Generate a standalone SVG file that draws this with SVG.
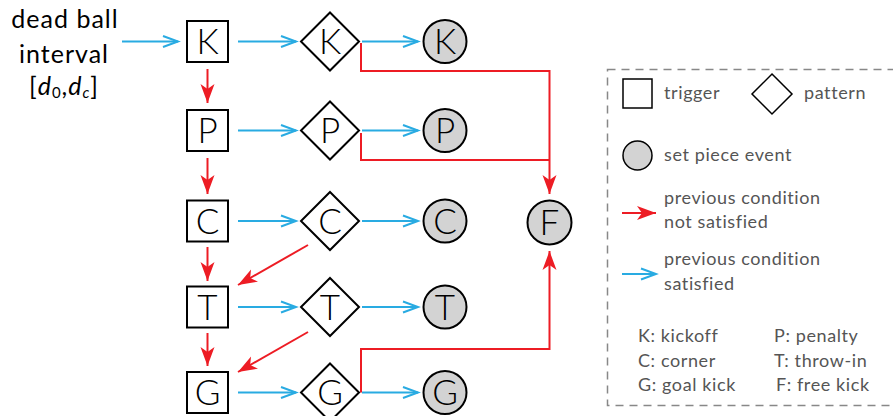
<svg xmlns="http://www.w3.org/2000/svg" width="893" height="416" viewBox="0 0 893 416">
<style>
.nd{fill:#fff;stroke:#000;stroke-width:2}
.ev{fill:#d3d3d3;stroke:#000;stroke-width:2}
.lt{font-family:Lato,"Liberation Sans",sans-serif;font-weight:300;font-size:35px;fill:#000;text-anchor:middle}
.bl{fill:none;stroke:#29abe2;stroke-width:2;marker-end:url(#bh)}
.rd{fill:none;stroke:#ed1c24;stroke-width:2;marker-end:url(#rh)}
.rn{fill:none;stroke:#ed1c24;stroke-width:2}
.lg{font-family:Lato,"Liberation Sans",sans-serif;font-weight:400;font-size:18px;letter-spacing:0.6px;fill:#555}
.in{font-family:Lato,"Liberation Sans",sans-serif;font-weight:400;font-size:25px;letter-spacing:1px;fill:#000;text-anchor:middle}
</style>
<defs>
<marker id="bh" markerUnits="userSpaceOnUse" markerWidth="20" markerHeight="16" viewBox="-17 -8 20 16" refX="0" refY="0" orient="auto">
<path d="M-15,-5.5 L0,0 L-15,5.5" fill="none" stroke="#29abe2" stroke-width="2"/>
</marker>
<marker id="rh" markerUnits="userSpaceOnUse" markerWidth="24" markerHeight="18" viewBox="-21 -9 24 18" refX="0" refY="0" orient="auto">
<path d="M0,0 L-19,-7 L-14,0 L-19,7 z" fill="#ed1c24"/>
</marker>
</defs>

<g id="input">
<text class="in" x="65" y="28">dead ball</text>
<text class="in" x="64" y="63">interval</text>
<text class="in" x="64" y="95">[<tspan font-style="italic">d</tspan><tspan font-size="15" dy="3">0</tspan><tspan dy="-3">,</tspan><tspan font-style="italic">d</tspan><tspan font-size="15" font-style="italic" dy="3">c</tspan><tspan dy="-3">]</tspan></text>
</g>

<g id="connectors">
<line class="bl" x1="122" y1="41.5" x2="178" y2="41.5"/>
<line class="bl" x1="238" y1="41.5" x2="296" y2="41.5"/>
<line class="bl" x1="238" y1="130.5" x2="296" y2="130.5"/>
<line class="bl" x1="238" y1="221" x2="296" y2="221"/>
<line class="bl" x1="238" y1="307" x2="296" y2="307"/>
<line class="bl" x1="238" y1="392.5" x2="296" y2="392.5"/>
<line class="bl" x1="362" y1="41.5" x2="418" y2="41.5"/>
<line class="bl" x1="362" y1="130.5" x2="418" y2="130.5"/>
<line class="bl" x1="362" y1="221" x2="418" y2="221"/>
<line class="bl" x1="362" y1="307" x2="418" y2="307"/>
<line class="bl" x1="362" y1="392.5" x2="418" y2="392.5"/>
<line class="rd" x1="207.5" y1="69" x2="207.5" y2="103"/>
<line class="rd" x1="207.5" y1="158" x2="207.5" y2="194"/>
<line class="rd" x1="207.5" y1="247" x2="207.5" y2="281"/>
<line class="rd" x1="207.5" y1="333" x2="207.5" y2="366"/>
<line class="rd" x1="308" y1="245" x2="238" y2="285"/>
<line class="rd" x1="308" y1="332" x2="238" y2="372"/>
<polyline class="rd" points="361,43 361,71 549.5,71 549.5,194"/>
<polyline class="rn" points="361,133 361,160 549.5,160"/>
<polyline class="rd" points="361,392.5 361,349 549.5,349 549.5,251"/>
</g>

<g id="trigK"><rect class="nd" x="187" y="21" width="41" height="41"/><text class="lt" x="207.5" y="54">K</text></g>
<g id="trigP"><rect class="nd" x="187" y="110" width="41" height="41"/><text class="lt" x="207.5" y="143">P</text></g>
<g id="trigC"><rect class="nd" x="187" y="200.5" width="41" height="41"/><text class="lt" x="207.5" y="233.5">C</text></g>
<g id="trigT"><rect class="nd" x="187" y="286.5" width="41" height="41"/><text class="lt" x="207.5" y="319.5">T</text></g>
<g id="trigG"><rect class="nd" x="187" y="372" width="41" height="41"/><text class="lt" x="207.5" y="405">G</text></g>

<g id="patK"><polygon class="nd" points="330,12.5 359,41.5 330,70.5 301,41.5"/><text class="lt" x="330" y="54">K</text></g>
<g id="patP"><polygon class="nd" points="330,101.5 359,130.5 330,159.5 301,130.5"/><text class="lt" x="330" y="143">P</text></g>
<g id="patC"><polygon class="nd" points="330,192 359,221 330,250 301,221"/><text class="lt" x="330" y="233.5">C</text></g>
<g id="patT"><polygon class="nd" points="330,278 359,307 330,336 301,307"/><text class="lt" x="330" y="319.5">T</text></g>
<g id="patG"><polygon class="nd" points="330,363.5 359,392.5 330,421.5 301,392.5"/><text class="lt" x="330" y="405">G</text></g>

<g id="evK"><circle class="ev" cx="445" cy="41.5" r="21.5"/><text class="lt" x="445" y="54">K</text></g>
<g id="evP"><circle class="ev" cx="445" cy="130.5" r="21.5"/><text class="lt" x="445" y="143">P</text></g>
<g id="evC"><circle class="ev" cx="445" cy="221" r="21.5"/><text class="lt" x="445" y="233.5">C</text></g>
<g id="evT"><circle class="ev" cx="445" cy="307" r="21.5"/><text class="lt" x="445" y="319.5">T</text></g>
<g id="evG"><circle class="ev" cx="445" cy="392.5" r="21.5"/><text class="lt" x="445" y="405">G</text></g>
<g id="evF"><circle class="ev" cx="549.5" cy="222.5" r="22"/><text class="lt" x="549.5" y="235">F</text></g>

<g id="legend">
<rect x="607.5" y="69.5" width="295" height="336" fill="none" stroke="#888" stroke-width="1.5" stroke-dasharray="8,6"/>
<rect x="623" y="79" width="29" height="29" fill="#fff" stroke="#000" stroke-width="1.5"/>
<text class="lg" x="664" y="99">trigger</text>
<polygon points="772,74 792,94 772,114 752,94" fill="#fff" stroke="#000" stroke-width="1.5"/>
<text class="lg" x="804" y="99">pattern</text>
<circle cx="637.5" cy="155.5" r="14.5" fill="#d3d3d3" stroke="#000" stroke-width="1.5"/>
<text class="lg" x="664" y="161">set piece event</text>
<line class="rd" x1="622" y1="213" x2="656" y2="213"/>
<text class="lg" x="664" y="204">previous condition</text>
<text class="lg" x="664" y="228">not satisfied</text>
<line class="bl" x1="622" y1="274" x2="656" y2="274"/>
<text class="lg" x="664" y="265">previous condition</text>
<text class="lg" x="664" y="290">satisfied</text>
<text class="lg" x="638" y="342">K: kickoff</text>
<text class="lg" x="638" y="367">C: corner</text>
<text class="lg" x="638" y="391">G: goal kick</text>
<text class="lg" x="774" y="342">P: penalty</text>
<text class="lg" x="774" y="367">T: throw-in</text>
<text class="lg" x="776" y="391">F: free kick</text>
</g>
</svg>
